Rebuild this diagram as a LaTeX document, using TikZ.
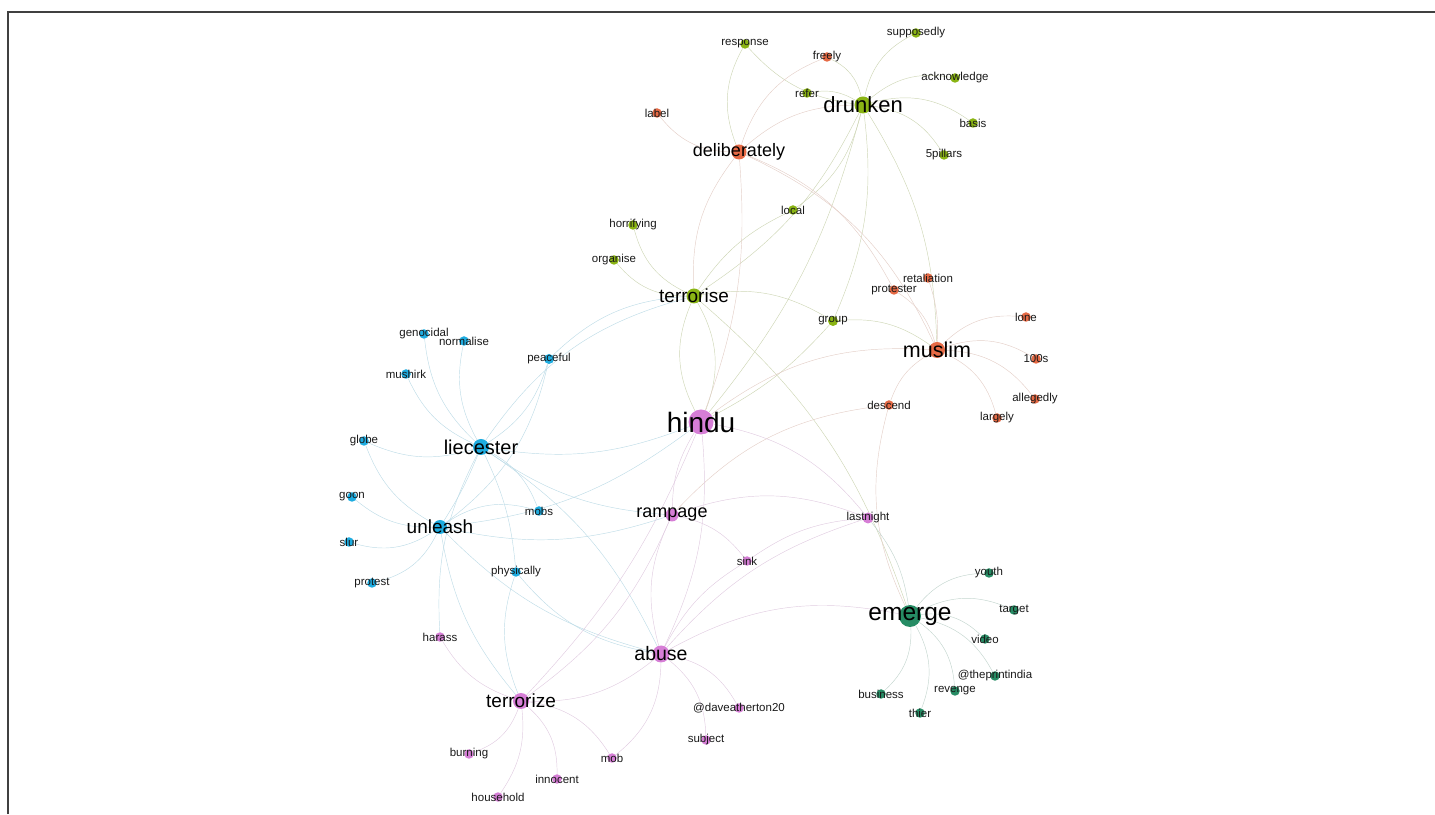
\documentclass[tikz,border=0pt]{standalone}
\usepackage{fontspec}
\setmainfont{Liberation Sans}
\usetikzlibrary{backgrounds}
\definecolor{cgreen}{RGB}{138,180,20}
\definecolor{corange}{RGB}{230,106,69}
\definecolor{cpink}{RGB}{214,126,214}
\definecolor{cblue}{RGB}{30,172,224}
\definecolor{cteal}{RGB}{38,140,100}

\begin{document}
\begin{tikzpicture}[x=1pt,y=1pt,
  wdot/.style={circle, inner sep=0pt, fill=#1},
  tsmall/.style={inner sep=0pt, text=black!90, font=\fontsize{11.5}{12}\selectfont},
  tbig/.style={inner sep=0pt, text=black, font=\fontsize{#1}{#1}\selectfont},
  egr/.style={draw=cgreen!50!gray!40, line width=0.45pt},
  eor/.style={draw=corange!50!gray!35, line width=0.45pt},
  ebl/.style={draw=cblue!60!gray!35, line width=0.45pt},
  epk/.style={draw=cpink!60!gray!40, line width=0.45pt},
  etl/.style={draw=cteal!50!gray!35, line width=0.45pt}]
\useasboundingbox (0,0) rectangle (1435,814);

% frame
\draw[line width=2pt, black!75] (8,0) -- (8,802) -- (1435,802);

% green cluster
\node[wdot=cgreen, minimum size=17pt] (drunken) at (863,709) {};
\node[wdot=cgreen, minimum size=9.5pt] (response) at (745,770) {};
\node[wdot=cgreen, minimum size=9.5pt] (supposedly) at (916,781) {};
\node[wdot=cgreen, minimum size=9.5pt] (acknowledge) at (955,736) {};
\node[wdot=cgreen, minimum size=9.5pt] (refer) at (807,721) {};
\node[wdot=cgreen, minimum size=9.5pt] (basis) at (973,691) {};
\node[wdot=cgreen, minimum size=9.5pt] (pillars) at (944,659) {};
\node[wdot=cgreen, minimum size=9.5pt] (local) at (793,604) {};
\node[wdot=cgreen, minimum size=9.5pt] (horrifying) at (633,589) {};
\node[wdot=cgreen, minimum size=9.5pt] (organise) at (614,554) {};
\node[wdot=cgreen, minimum size=15pt] (terrorise) at (694,518) {};
\node[wdot=cgreen, minimum size=10pt] (group) at (833,493) {};

% orange cluster
\node[wdot=corange, minimum size=15pt] (deliberately) at (739,662) {};
\node[wdot=corange, minimum size=9.5pt] (freely) at (827,757) {};
\node[wdot=corange, minimum size=9.5pt] (label) at (657,701) {};
\node[wdot=corange, minimum size=9.5pt] (retaliation) at (928,536) {};
\node[wdot=corange, minimum size=9.5pt] (protester) at (894,524) {};
\node[wdot=corange, minimum size=16pt] (muslim) at (937,464) {};
\node[wdot=corange, minimum size=9.5pt] (lone) at (1026,497) {};
\node[wdot=corange, minimum size=9.5pt] (hundreds) at (1036,455) {};
\node[wdot=corange, minimum size=9.5pt] (allegedly) at (1035,415) {};
\node[wdot=corange, minimum size=9.5pt] (largely) at (997,396) {};
\node[wdot=corange, minimum size=9.5pt] (descend) at (889,409) {};

% blue cluster
\node[wdot=cblue, minimum size=9.5pt] (genocidal) at (424,480) {};
\node[wdot=cblue, minimum size=9.5pt] (normalise) at (464,473) {};
\node[wdot=cblue, minimum size=10pt] (peaceful) at (549,455) {};
\node[wdot=cblue, minimum size=9.5pt] (mushirk) at (406,440) {};
\node[wdot=cblue, minimum size=9.5pt] (globe) at (364,373) {};
\node[wdot=cblue, minimum size=16pt] (liecester) at (481,367) {};
\node[wdot=cblue, minimum size=9.5pt] (goon) at (352,317) {};
\node[wdot=cblue, minimum size=9.5pt] (mobs) at (539,303) {};
\node[wdot=cblue, minimum size=14pt] (unleash) at (440,287) {};
\node[wdot=cblue, minimum size=9.5pt] (slur) at (349,272) {};
\node[wdot=cblue, minimum size=9.5pt] (protest) at (372,231) {};
\node[wdot=cblue, minimum size=9.5pt] (physically) at (516,242) {};

% pink cluster
\node[wdot=cpink, minimum size=25pt] (hindu) at (701,392) {};
\node[wdot=cpink, minimum size=13pt] (rampage) at (672,299) {};
\node[wdot=cpink, minimum size=11pt] (lastnight) at (868,296) {};
\node[wdot=cpink, minimum size=9.5pt] (sink) at (747,253) {};
\node[wdot=cpink, minimum size=9.5pt] (harass) at (440,177) {};
\node[wdot=cpink, minimum size=17pt] (abuse) at (661,160) {};
\node[wdot=cpink, minimum size=16pt] (terrorize) at (521,113) {};
\node[wdot=cpink, minimum size=9.5pt] (dave) at (739,106) {};
\node[wdot=cpink, minimum size=9.5pt] (subject) at (706,74) {};
\node[wdot=cpink, minimum size=9.5pt] (burning) at (469,60) {};
\node[wdot=cpink, minimum size=9.5pt] (mob) at (612,56) {};
\node[wdot=cpink, minimum size=9.5pt] (innocent) at (557,35) {};
\node[wdot=cpink, minimum size=9.5pt] (household) at (498,17) {};

% teal cluster
\node[wdot=cteal, minimum size=22pt] (emerge) at (910,198) {};
\node[wdot=cteal, minimum size=9.5pt] (youth) at (989,241) {};
\node[wdot=cteal, minimum size=9.5pt] (target) at (1014,204) {};
\node[wdot=cteal, minimum size=9.5pt] (video) at (985,175) {};
\node[wdot=cteal, minimum size=9.5pt] (theprint) at (995,138) {};
\node[wdot=cteal, minimum size=9.5pt] (revenge) at (955,123) {};
\node[wdot=cteal, minimum size=9.5pt] (business) at (881,120) {};
\node[wdot=cteal, minimum size=9.5pt] (thier) at (920,101) {};

\begin{pgfonlayer}{background}
% green edges
\draw[egr] (drunken) to[bend left=25] (supposedly);
\draw[egr] (drunken) to[bend left=25] (acknowledge);
\draw[egr] (drunken) to[bend left=25] (basis);
\draw[egr] (drunken) to[bend left=25] (pillars);
\draw[egr] (refer) to[bend left=20] (drunken);
\draw[egr] (response) to[bend right=20] (drunken);
\draw[egr] (freely) to[bend left=25] (drunken);
\draw[egr] (response) to[bend right=25] (deliberately);
\draw[egr] (terrorise) to[bend left=15] (local);
\draw[egr] (local) to[bend right=20] (drunken);
\draw[egr] (terrorise) to[bend right=15] (drunken);
\draw[egr] (drunken) to[bend left=15] (group);
\draw[egr] (drunken) to[bend left=15] (muslim);
\draw[egr] (drunken) to[bend left=12] (hindu);
\draw[egr] (horrifying) to[bend right=25] (terrorise);
\draw[egr] (organise) to[bend right=25] (terrorise);
\draw[egr] (terrorise) to[bend left=20] (group);
\draw[egr] (terrorise) to[bend right=25] (hindu);
\draw[egr] (hindu) to[bend right=25] (terrorise);
\draw[egr] (terrorise) to[bend left=15] (emerge);
\draw[egr] (group) to[bend left=20] (muslim);
\draw[egr] (hindu) to[bend right=10] (group);

% orange edges
\draw[eor] (deliberately) to[bend left=25] (freely);
\draw[eor] (deliberately) to[bend left=20] (drunken);
\draw[eor] (label) to[bend right=25] (deliberately);
\draw[eor] (deliberately) to[bend right=20] (terrorise);
\draw[eor] (deliberately) to[bend left=12] (hindu);
\draw[eor] (deliberately) to[bend left=20] (muslim);
\draw[eor] (deliberately) to[bend left=20] (protester);
\draw[eor] (retaliation) to[bend left=10] (muslim);
\draw[eor] (protester) to[bend left=20] (muslim);
\draw[eor] (muslim) to[bend left=25] (lone);
\draw[eor] (muslim) to[bend left=25] (hundreds);
\draw[eor] (muslim) to[bend left=25] (allegedly);
\draw[eor] (muslim) to[bend left=25] (largely);
\draw[eor] (muslim) to[bend right=20] (descend);
\draw[eor] (hindu) to[bend left=20] (muslim);
\draw[eor] (rampage) to[bend left=20] (descend);
\draw[eor] (descend) to[bend right=20] (emerge);

% blue edges
\draw[ebl] (genocidal) to[bend right=20] (liecester);
\draw[ebl] (normalise) to[bend right=20] (liecester);
\draw[ebl] (mushirk) to[bend right=20] (liecester);
\draw[ebl] (liecester) to[bend right=20] (peaceful);
\draw[ebl] (peaceful) to[bend left=20] (terrorise);
\draw[ebl] (liecester) to[bend left=20] (terrorise);
\draw[ebl] (globe) to[bend right=20] (liecester);
\draw[ebl] (globe) to[bend right=20] (unleash);
\draw[ebl] (goon) to[bend right=20] (unleash);
\draw[ebl] (slur) to[bend right=25] (unleash);
\draw[ebl] (protest) to[bend right=25] (unleash);
\draw[ebl] (unleash) to[bend right=20] (peaceful);
\draw[ebl] (liecester) to[bend left=5] (unleash);
\draw[ebl] (liecester) to[bend left=20] (mobs);
\draw[ebl] (liecester) to[bend right=15] (hindu);
\draw[ebl] (liecester) to[bend left=10] (physically);
\draw[ebl] (liecester) to[bend left=15] (abuse);
\draw[ebl] (liecester) to[bend right=15] (rampage);
\draw[ebl] (unleash) to[bend right=15] (rampage);
\draw[ebl] (unleash) to[bend right=15] (hindu);
\draw[ebl] (unleash) to[bend left=25] (mobs);
\draw[ebl] (unleash) to[bend right=15] (abuse);
\draw[ebl] (unleash) to[bend right=15] (terrorize);
\draw[ebl] (harass) to[bend left=15] (liecester);
\draw[ebl] (physically) to[bend right=20] (terrorize);
\draw[ebl] (physically) to[bend right=20] (abuse);

% pink edges
\draw[epk] (hindu) to[bend right=15] (rampage);
\draw[epk] (hindu) to[bend left=15] (abuse);
\draw[epk] (hindu) to[bend left=10] (terrorize);
\draw[epk] (hindu) to[bend left=20] (lastnight);
\draw[epk] (rampage) to[bend left=20] (lastnight);
\draw[epk] (rampage) to[bend left=20] (sink);
\draw[epk] (sink) to[bend left=15] (lastnight);
\draw[epk] (sink) to[bend right=15] (abuse);
\draw[epk] (rampage) to[bend right=20] (abuse);
\draw[epk] (rampage) to[bend left=15] (terrorize);
\draw[epk] (abuse) to[bend left=20] (emerge);
\draw[epk] (abuse) to[bend left=15] (lastnight);
\draw[epk] (terrorize) to[bend right=20] (abuse);
\draw[epk] (harass) to[bend right=20] (terrorize);
\draw[epk] (abuse) to[bend left=25] (dave);
\draw[epk] (abuse) to[bend left=25] (subject);
\draw[epk] (abuse) to[bend left=25] (mob);
\draw[epk] (terrorize) to[bend left=25] (burning);
\draw[epk] (terrorize) to[bend left=20] (household);
\draw[epk] (terrorize) to[bend left=25] (innocent);
\draw[epk] (terrorize) to[bend left=25] (mob);

% teal edges
\draw[etl] (emerge) to[bend left=25] (youth);
\draw[etl] (emerge) to[bend left=25] (target);
\draw[etl] (emerge) to[bend left=25] (video);
\draw[etl] (emerge) to[bend left=25] (theprint);
\draw[etl] (emerge) to[bend left=25] (revenge);
\draw[etl] (emerge) to[bend left=25] (thier);
\draw[etl] (emerge) to[bend left=25] (business);
\draw[etl] (lastnight) to[bend left=15] (emerge);
\end{pgfonlayer}

% labels
\node[tbig=22] (drunken-t) at (drunken) {drunken};
\node[tbig=18] (deliberately-t) at (deliberately) {deliberately};
\node[tbig=19] (terrorise-t) at (terrorise) {terrorise};
\node[tbig=21.5] (muslim-t) at (muslim) {muslim};
\node[tbig=28] (hindu-t) at (hindu) {hindu};
\node[tbig=20] (liecester-t) at (liecester) {liecester};
\node[tbig=19] (unleash-t) at (unleash) {unleash};
\node[tbig=18] (rampage-t) at (rampage) {rampage};
\node[tbig=19.5] (abuse-t) at (abuse) {abuse};
\node[tbig=19] (terrorize-t) at (terrorize) {terrorize};
\node[tbig=24.5] (emerge-t) at (emerge) {emerge};
\node[tsmall] (response-t) at (response) {response};
\node[tsmall] (freely-t) at (freely) {freely};
\node[tsmall] (supposedly-t) at (supposedly) {supposedly};
\node[tsmall] (acknowledge-t) at (acknowledge) {acknowledge};
\node[tsmall] (refer-t) at (refer) {refer};
\node[tsmall] (label-t) at (label) {label};
\node[tsmall] (basis-t) at (basis) {basis};
\node[tsmall] (pillars-t) at (pillars) {5pillars};
\node[tsmall] (local-t) at (local) {local};
\node[tsmall] (horrifying-t) at (horrifying) {horrifying};
\node[tsmall] (organise-t) at (organise) {organise};
\node[tsmall] (retaliation-t) at (retaliation) {retaliation};
\node[tsmall] (protester-t) at (protester) {protester};
\node[tsmall] (group-t) at (group) {group};
\node[tsmall] (lone-t) at (lone) {lone};
\node[tsmall] (hundreds-t) at (hundreds) {100s};
\node[tsmall] (allegedly-t) at (allegedly) {allegedly};
\node[tsmall] (largely-t) at (largely) {largely};
\node[tsmall] (descend-t) at (descend) {descend};
\node[tsmall] (genocidal-t) at (genocidal) {genocidal};
\node[tsmall] (normalise-t) at (normalise) {normalise};
\node[tsmall] (peaceful-t) at (peaceful) {peaceful};
\node[tsmall] (mushirk-t) at (mushirk) {mushirk};
\node[tsmall] (globe-t) at (globe) {globe};
\node[tsmall] (goon-t) at (goon) {goon};
\node[tsmall] (mobs-t) at (mobs) {mobs};
\node[tsmall] (slur-t) at (slur) {slur};
\node[tsmall] (protest-t) at (protest) {protest};
\node[tsmall] (physically-t) at (physically) {physically};
\node[tsmall] (lastnight-t) at (lastnight) {lastnight};
\node[tsmall] (sink-t) at (sink) {sink};
\node[tsmall] (harass-t) at (harass) {harass};
\node[tsmall] (dave-t) at (dave) {@daveatherton20};
\node[tsmall] (subject-t) at (subject) {subject};
\node[tsmall] (burning-t) at (burning) {burning};
\node[tsmall] (mob-t) at (mob) {mob};
\node[tsmall] (innocent-t) at (innocent) {innocent};
\node[tsmall] (household-t) at (household) {household};
\node[tsmall] (youth-t) at (youth) {youth};
\node[tsmall] (target-t) at (target) {target};
\node[tsmall] (video-t) at (video) {video};
\node[tsmall] (theprint-t) at (theprint) {@theprintindia};
\node[tsmall] (revenge-t) at (revenge) {revenge};
\node[tsmall] (business-t) at (business) {business};
\node[tsmall] (thier-t) at (thier) {thier};
\end{tikzpicture}
\end{document}
